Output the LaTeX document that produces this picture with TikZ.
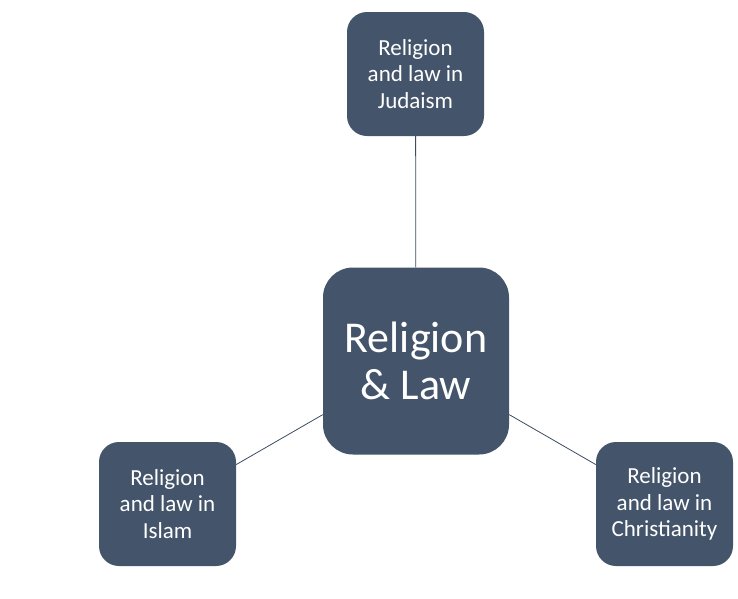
\documentclass[tikz,border=0pt]{standalone}
\usepackage{fontspec}
\setmainfont{Carlito}
\definecolor{slate}{RGB}{68,84,106}

\begin{document}
\begin{tikzpicture}[x=1pt, y=-1pt,
  topic/.style={draw=none, fill=slate, text=white, rounded corners=20pt, minimum width=137pt, minimum height=124pt, align=center, inner sep=0pt, font=\fontsize{23}{26.5}\selectfont},
  hub/.style={topic, rounded corners=30pt, minimum width=186pt, minimum height=187pt, font=\fontsize{44}{47}\selectfont},
  link/.style={draw=slate!90!black, line width=0.8pt}]
\useasboundingbox[fill=white] (0,0) rectangle (738,598);
\node[hub] (law) at (416,361) {Religion\\\& Law};
\node[topic] (judaism) at (415.5,74) {Religion\\and law in\\Judaism};
\node[topic] (islam) at (167.5,504) {Religion\\and law in\\Islam};
\node[topic] (christianity) at (664.5,504) {Religion\\and law in\\Christianity};
\draw[link] (law) -- (judaism); \draw[link] (law) -- (islam); \draw[link] (law) -- (christianity);
\end{tikzpicture}
\end{document}
